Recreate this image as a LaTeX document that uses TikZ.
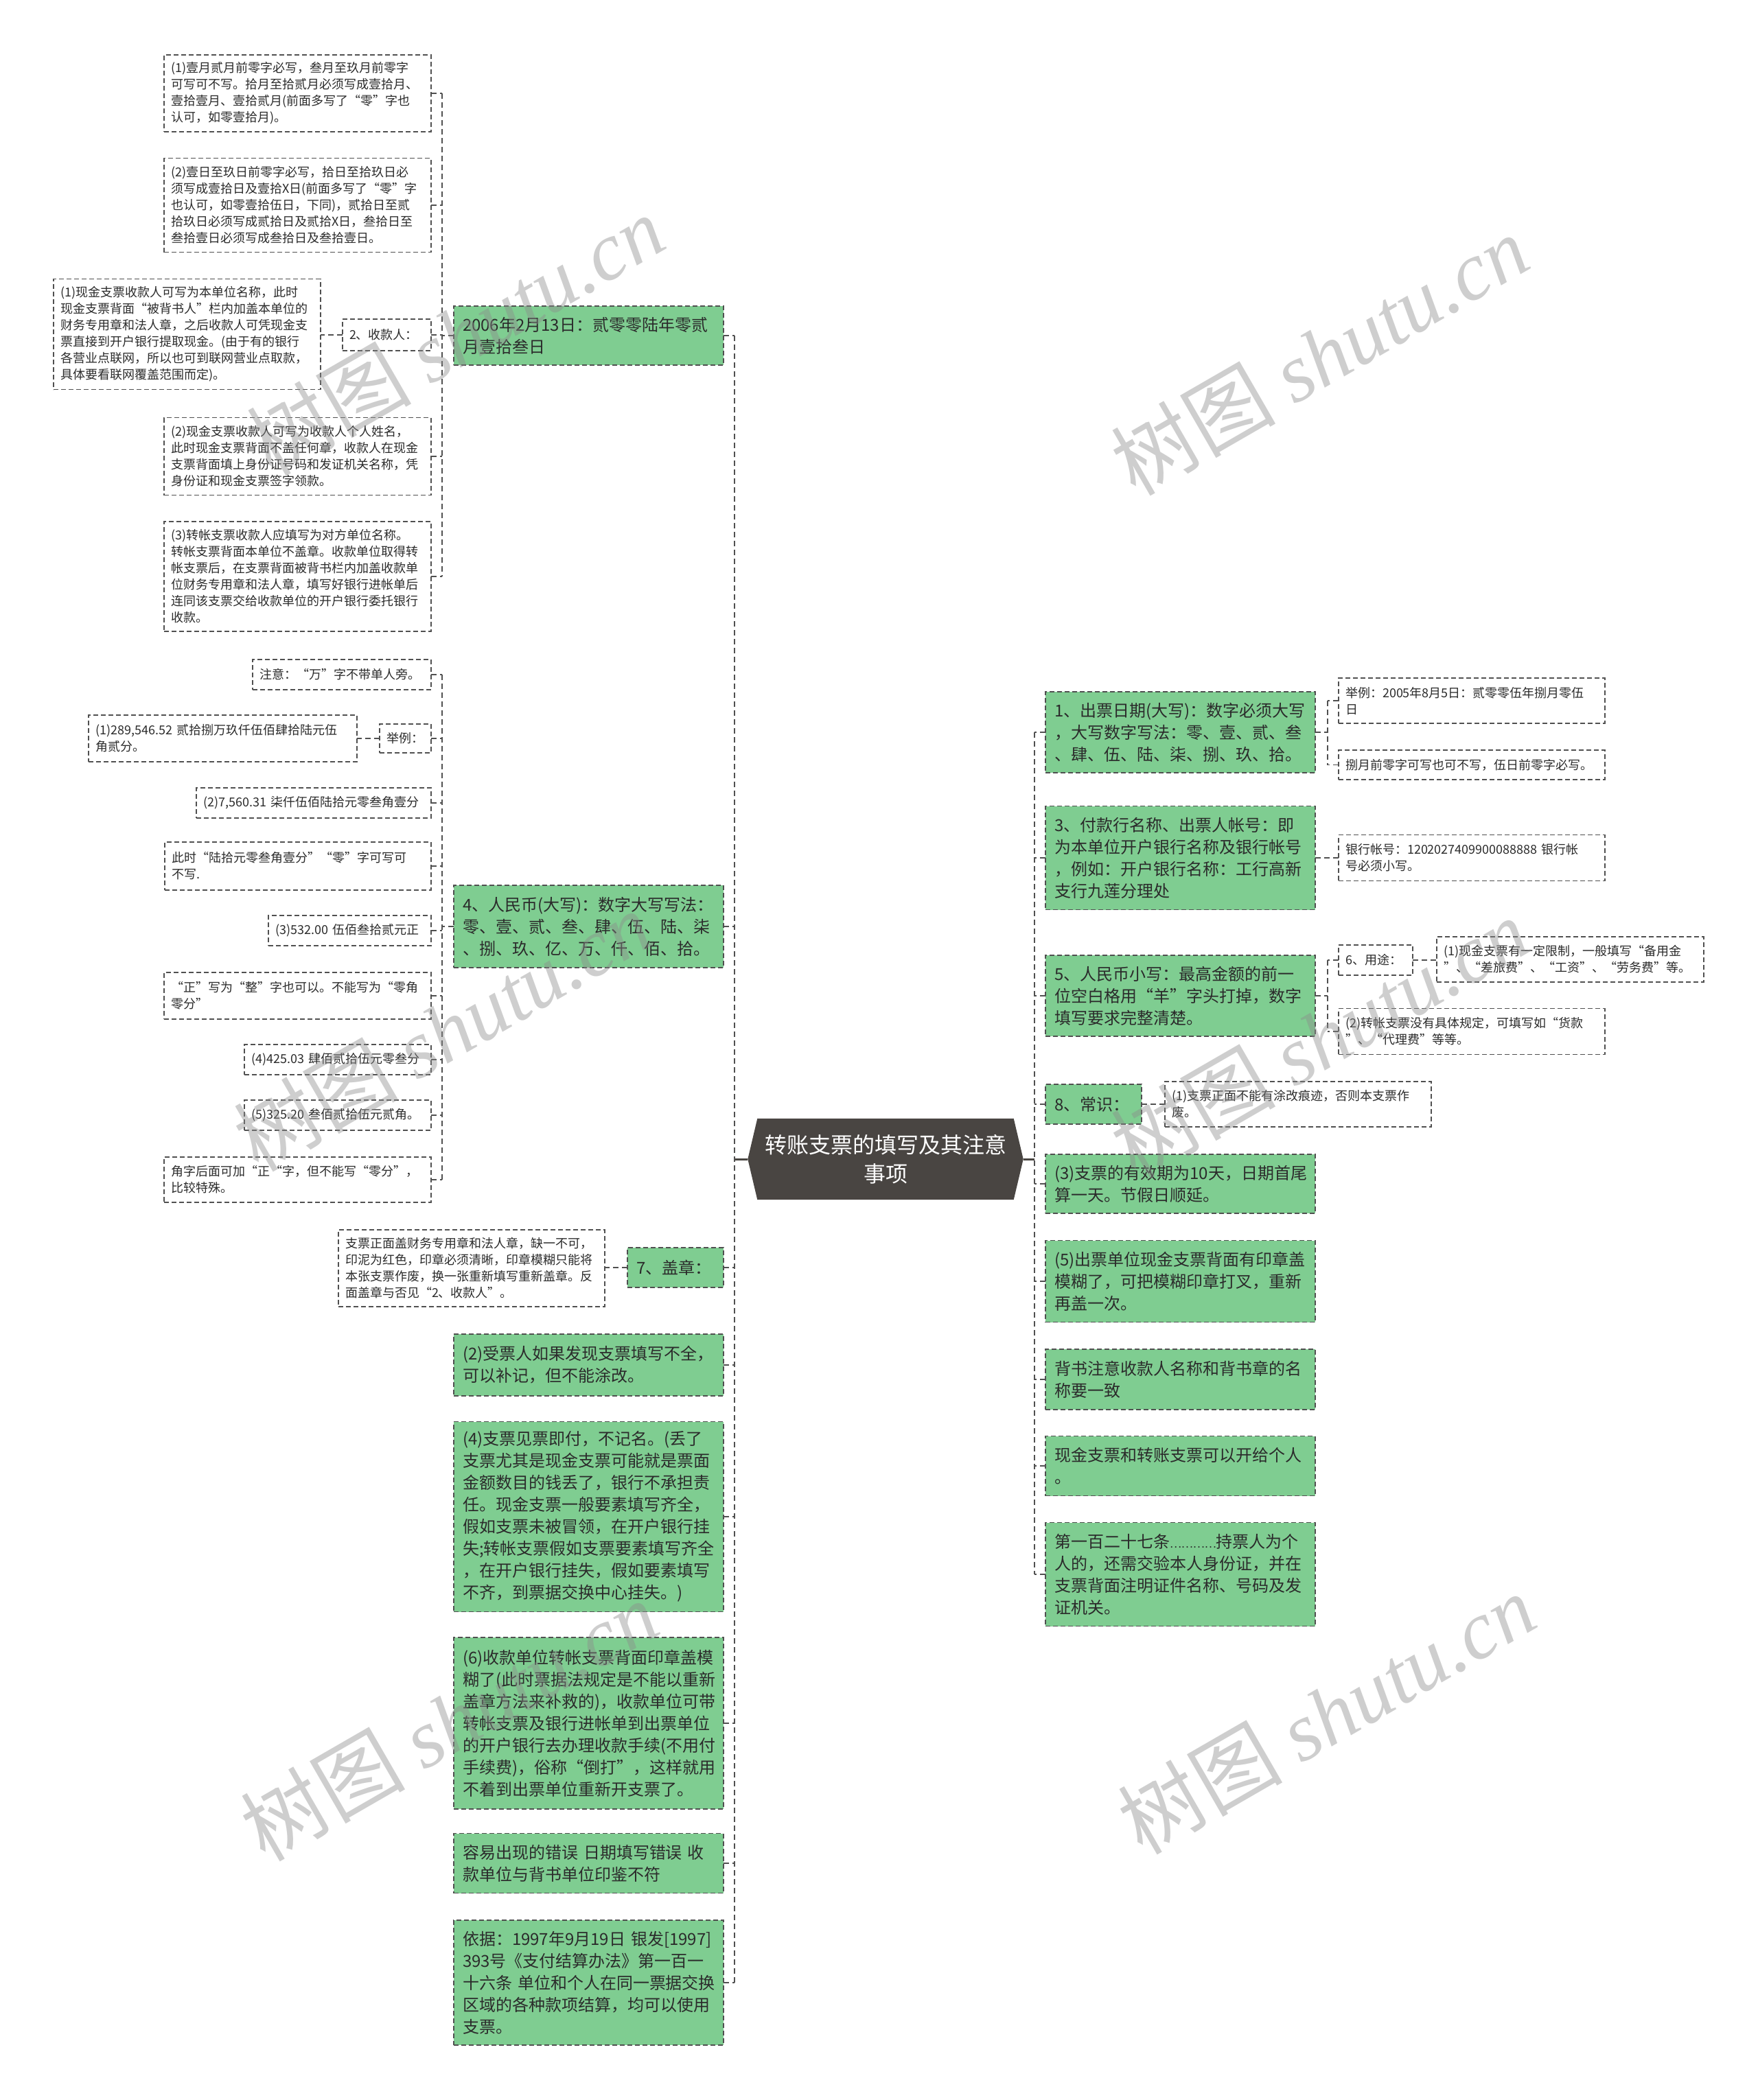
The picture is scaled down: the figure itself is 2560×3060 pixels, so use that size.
\documentclass[tikz,border=0pt]{standalone}
\usepackage{fontspec}
\setmainfont{Noto Sans CJK SC}
\newfontfamily\wmlatin{Liberation Serif}
\usetikzlibrary{calc,backgrounds}
\definecolor{boxgreen}{HTML}{7FCD91}
\definecolor{rootfill}{HTML}{494542}
\definecolor{linegray}{HTML}{505050}
\definecolor{txt}{HTML}{2B2B2B}
\tikzset{
  every node/.style={text=txt},
  boxbase/.style={draw=linegray, line width=1.8pt, dash pattern=on 7pt off 4pt, align=left, inner ysep=0pt, outer sep=0pt},
  wbox/.style={boxbase, fill=white, inner xsep=10pt, font=\fontsize{18}{24}\selectfont},
  gbox/.style={boxbase, fill=boxgreen, inner xsep=13pt, font=\fontsize{24}{32}\selectfont},
  conn/.style={draw=linegray, line width=1.8pt, dash pattern=on 8pt off 5pt},
  rootconn/.style={draw=rootfill, line width=3pt},
  wmark/.style={text=black!45, opacity=0.42, rotate=30, font=\fontsize{120}{120}\selectfont},
}
\newcommand\WBox[6]{\pgfmathsetlengthmacro\tw{#4-20}\node[wbox, minimum width=#4pt, minimum height=#5pt, text width=\tw] (#1) at (#2,#3) {#6};}
\newcommand\GBox[6]{\pgfmathsetlengthmacro\tw{#4-26}\node[gbox, minimum width=#4pt, minimum height=#5pt, text width=\tw] (#1) at (#2,#3) {#6};}
\begin{document}
\begin{tikzpicture}[x=1pt,y=-1pt]
\useasboundingbox (0,0) rectangle (2560,3060);
\begin{scope}[on background layer]
\fill[white] (0,0) rectangle (2560,3060);
\end{scope}

% root
\node[font=\fontsize{32}{42}\selectfont, text=white, align=center, minimum width=401pt, minimum height=118pt, inner sep=0pt] (root) at (1290,1689) {转账支票的填写及其注意\\事项};
\begin{scope}[on background layer]
\fill[rootfill] ($(root.north west)+(14,0)$) -- ($(root.north east)+(-14,0)$) -- (root.east) -- ($(root.south east)+(-14,0)$) -- ($(root.south west)+(14,0)$) -- (root.west) -- cycle;
\end{scope}

% left level 1
\GBox{L1}{857.5}{489}{393}{86}{2006年2月13日：贰零零陆年零贰\\月壹拾叁日}
\GBox{L2}{857.5}{1350}{393}{120}{4、人民币(大写)：数字大写写法：\\零、壹、贰、叁、肆、伍、陆、柒\\、捌、玖、亿、万、仟、佰、拾。}
\GBox{L3}{984}{1847}{140}{58}{7、盖章：}
\GBox{L4}{857.5}{1989}{393}{90}{(2)受票人如果发现支票填写不全，\\可以补记，但不能涂改。}
\GBox{L5}{857.5}{2210}{393}{277}{(4)支票见票即付，不记名。(丢了\\支票尤其是现金支票可能就是票面\\金额数目的钱丢了，银行不承担责\\任。现金支票一般要素填写齐全，\\假如支票未被冒领，在开户银行挂\\失;转帐支票假如支票要素填写齐全\\，在开户银行挂失，假如要素填写\\不齐，到票据交换中心挂失。)}
\GBox{L6}{857.5}{2511}{393}{250}{(6)收款单位转帐支票背面印章盖模\\糊了(此时票据法规定是不能以重新\\盖章方法来补救的)，收款单位可带\\转帐支票及银行进帐单到出票单位\\的开户银行去办理收款手续(不用付\\手续费)，俗称“倒打”，这样就用\\不着到出票单位重新开支票了。}
\GBox{L7}{857.5}{2715}{393}{87}{容易出现的错误~日期填写错误~收\\款单位与背书单位印鉴不符}
\GBox{L8}{857.5}{2889}{393}{182}{依据：1997年9月19日~银发[1997]\\393号《支付结算办法》第一百一\\十六条~单位和个人在同一票据交换\\区域的各种款项结算，均可以使用\\支票。}

% group A (children of L1)
\WBox{A1}{433.5}{136}{389}{112}{(1)壹月贰月前零字必写，叁月至玖月前零字\\可写可不写。拾月至拾贰月必须写成壹拾月、\\壹拾壹月、壹拾贰月(前面多写了“零”字也\\认可，如零壹拾月)。}
\WBox{A2}{433.5}{299}{389}{137}{(2)壹日至玖日前零字必写，拾日至拾玖日必\\须写成壹拾日及壹拾X日(前面多写了“零”字\\也认可，如零壹拾伍日，下同)，贰拾日至贰\\拾玖日必须写成贰拾日及贰拾X日，叁拾日至\\叁拾壹日必须写成叁拾日及叁拾壹日。}
\WBox{A3}{563.5}{488}{129}{46}{2、收款人：}
\WBox{A3c}{272.5}{487}{389}{161}{(1)现金支票收款人可写为本单位名称，此时\\现金支票背面“被背书人”栏内加盖本单位的\\财务专用章和法人章，之后收款人可凭现金支\\票直接到开户银行提取现金。(由于有的银行\\各营业点联网，所以也可到联网营业点取款，\\具体要看联网覆盖范围而定)。}
\WBox{A4}{433.5}{665}{389}{113}{(2)现金支票收款人可写为收款人个人姓名，\\此时现金支票背面不盖任何章，收款人在现金\\支票背面填上身份证号码和发证机关名称，凭\\身份证和现金支票签字领款。}
\WBox{A5}{433.5}{840}{389}{160}{(3)转帐支票收款人应填写为对方单位名称。\\转帐支票背面本单位不盖章。收款单位取得转\\帐支票后，在支票背面被背书栏内加盖收款单\\位财务专用章和法人章，填写好银行进帐单后\\连同该支票交给收款单位的开户银行委托银行\\收款。}

% group B (children of L2)
\WBox{B1}{498}{983}{260}{44}{注意：“万”字不带单人旁。}
\WBox{B2}{590.5}{1076}{75}{42}{举例：}
\WBox{B2c}{324.5}{1076}{391}{68}{(1)289,546.52~贰拾捌万玖仟伍佰肆拾陆元伍\\角贰分。}
\WBox{B3}{457}{1170}{342}{44}{(2)7,560.31~柒仟伍佰陆拾元零叁角壹分}
\WBox{B4}{434}{1262}{388}{70}{此时“陆拾元零叁角壹分”“零”字可写可\\不写.}
\WBox{B5}{509.5}{1356}{237}{44}{(3)532.00~伍佰叁拾贰元正}
\WBox{B6}{433.5}{1451}{389}{68}{“正”写为“整”字也可以。不能写为“零角\\零分”}
\WBox{B7}{492}{1544}{272}{44}{(4)425.03~肆佰贰拾伍元零叁分}
\WBox{B8}{492}{1625}{272}{44}{(5)325.20~叁佰贰拾伍元贰角。}
\WBox{B9}{433.5}{1719}{389}{66}{角字后面可加“正“字，但不能写“零分”，\\比较特殊。}

% child of L3
\WBox{D1}{687}{1848}{388}{112}{支票正面盖财务专用章和法人章，缺一不可，\\印泥为红色，印章必须清晰，印章模糊只能将\\本张支票作废，换一张重新填写重新盖章。反\\面盖章与否见“2、收款人”。}

% right level 1
\GBox{R1}{1719.5}{1067}{393}{118}{1、出票日期(大写)：数字必须大写\\，大写数字写法：零、壹、贰、叁\\、肆、伍、陆、柒、捌、玖、拾。}
\GBox{R2}{1719.5}{1250}{393}{151}{3、付款行名称、出票人帐号：即\\为本单位开户银行名称及银行帐号\\，例如：开户银行名称：工行高新\\支行九莲分理处}
\GBox{R3}{1719.5}{1451}{393}{118}{5、人民币小写：最高金额的前一\\位空白格用“羊”字头打掉，数字\\填写要求完整清楚。}
\GBox{R4}{1593}{1609}{140}{58}{8、常识：}
\GBox{R5}{1719.5}{1725}{393}{86}{(3)支票的有效期为10天，日期首尾\\算一天。节假日顺延。}
\GBox{R6}{1719.5}{1867}{393}{119}{(5)出票单位现金支票背面有印章盖\\模糊了，可把模糊印章打叉，重新\\再盖一次。}
\GBox{R7}{1719.5}{2010}{393}{88}{背书注意收款人名称和背书章的名\\称要一致}
\GBox{R8}{1719.5}{2136}{393}{87}{现金支票和转账支票可以开给个人\\。}
\GBox{R9}{1719.5}{2294}{393}{151}{第一百二十七条{\fontsize{16}{32}\selectfont …………}持票人为个\\人的，还需交验本人身份证，并在\\支票背面注明证件名称、号码及发\\证机关。}

% group C
\WBox{C1}{2144}{1021}{388}{66}{举例：2005年8月5日：贰零零伍年捌月零伍\\日}
\WBox{C2}{2144}{1114.5}{388}{43}{捌月前零字可写也可不写，伍日前零字必写。}
\WBox{C3}{2144}{1250}{388}{67}{银行帐号：1202027409900088888~银行帐\\号必须小写。}
\WBox{C4}{2004}{1399}{108}{44}{6、用途：}
\WBox{C4c}{2287.5}{1398}{389}{66}{(1)现金支票有一定限制，一般填写“备用金\\”、“差旅费”、“工资”、“劳务费”等。}
\WBox{C5}{2144}{1503}{388}{67}{(2)转帐支票没有具体规定，可填写如“货款\\”、“代理费”等等。}
\WBox{C6}{1891}{1609}{388}{66}{(1)支票正面不能有涂改痕迹，否则本支票作\\废。}

% spine coordinates
\coordinate (ls) at (1070,0);
\coordinate (rs) at (1507,0);
\coordinate (ga) at (644,0);
\coordinate (gc) at (1934,0);

% left connectors
\draw[rootconn] (root.west) -- (root.west -| ls);
\draw[conn] (L1.east -| ls) -- (L8.east -| ls);
\foreach \n in {L1,L2,L3,L4,L5,L6,L7,L8} \draw[conn] (\n.east) -- (\n.east -| ls);

\draw[conn] (L1.west) -- (L1.west -| ga);
\draw[conn] (A1.east -| ga) -- (A5.east -| ga);
\foreach \n in {A1,A2,A3,A4,A5} \draw[conn] (\n.east) -- (\n.east -| ga);
\draw[conn] (A3.west) -- (A3.west -| A3c.east);

\draw[conn] (L2.west) -- (L2.west -| ga);
\draw[conn] (B1.east -| ga) -- (B9.east -| ga);
\foreach \n in {B1,B2,B3,B4,B5,B6,B7,B8,B9} \draw[conn] (\n.east) -- (\n.east -| ga);
\draw[conn] (B2.west) -- (B2.west -| B2c.east);

\draw[conn] (L3.west) -- (L3.west -| D1.east);

% right connectors
\draw[rootconn] (root.east) -- (root.east -| rs);
\draw[conn] (R1.west -| rs) -- (R9.west -| rs);
\foreach \n in {R1,R2,R3,R4,R5,R6,R7,R8,R9} \draw[conn] (\n.west) -- (\n.west -| rs);

\draw[conn] (R1.east) -- (R1.east -| gc);
\draw[conn] (C1.west -| gc) -- (C2.west -| gc);
\foreach \n in {C1,C2} \draw[conn] (\n.west) -- (\n.west -| gc);
\draw[conn] (R2.east) -- (R2.east -| C3.west);
\draw[conn] (R3.east) -- (R3.east -| gc);
\draw[conn] (C4.west -| gc) -- (C5.west -| gc);
\foreach \n in {C4,C5} \draw[conn] (\n.west) -- (\n.west -| gc);
\draw[conn] (C4.east) -- (C4.east -| C4c.west);
\draw[conn] (R4.east) -- (R4.east -| C6.west);

% watermarks
\node[wmark] (wm1) at (663,488) {树图~{\wmlatin\itshape shutu.cn}};
\node[wmark] (wm2) at (1922,517) {树图~{\wmlatin\itshape shutu.cn}};
\node[wmark] (wm3) at (644,1502) {树图~{\wmlatin\itshape shutu.cn}};
\node[wmark] (wm4) at (1922,1512) {树图~{\wmlatin\itshape shutu.cn}};
\node[wmark] (wm5) at (654,2507) {树图~{\wmlatin\itshape shutu.cn}};
\node[wmark] (wm6) at (1932,2497) {树图~{\wmlatin\itshape shutu.cn}};
\end{tikzpicture}
\end{document}
